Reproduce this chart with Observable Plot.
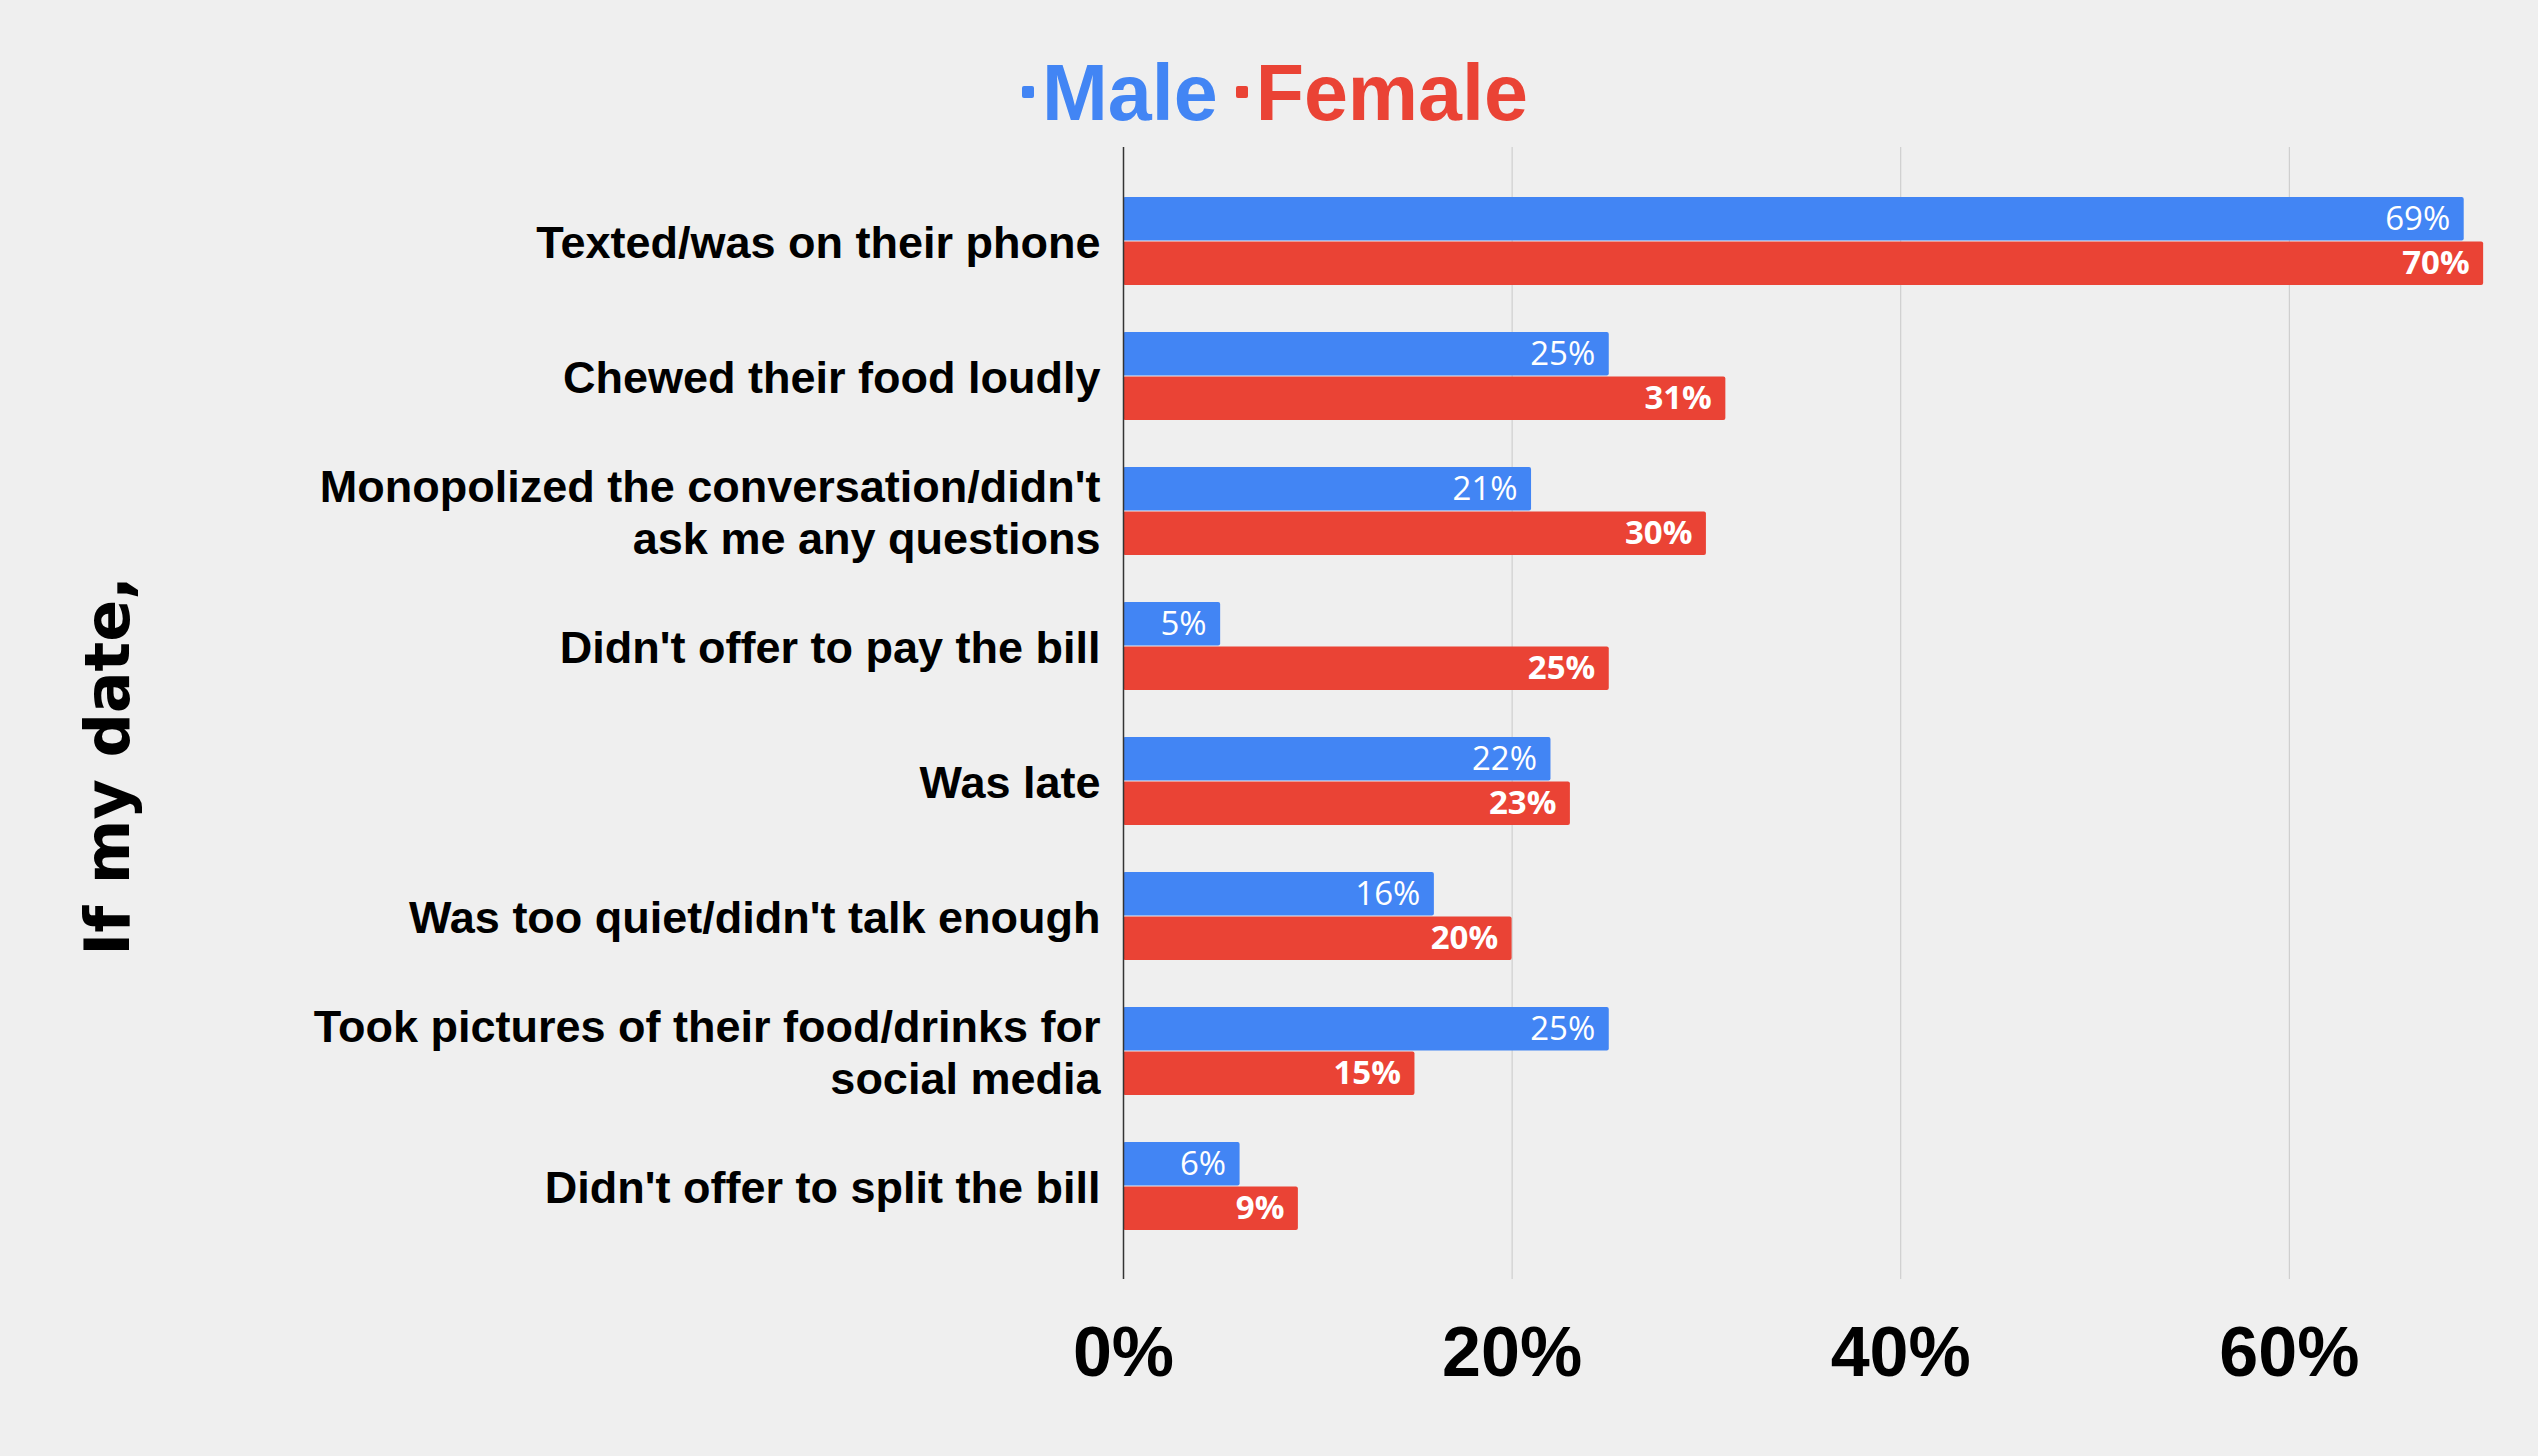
<!DOCTYPE html>
<html>
<head>
<meta charset="utf-8">
<script src="https://cdn.jsdelivr.net/npm/d3@7"></script>
<script src="https://cdn.jsdelivr.net/npm/@observablehq/plot@0.6"></script>
<style>
  html, body { margin: 0; padding: 0; background: #efefef; overflow: hidden; }
  #wrap { position: relative; width: 2538px; height: 1456px; }
  #legend {
    height: 67px; padding-top: 53px; padding-left: 1022px; line-height: 1;
    display: flex; justify-content: flex-start; align-items: flex-start;
    font-family: "Liberation Sans", Arial, sans-serif; font-weight: bold; font-size: 79px;
  }
  #legend span.item { display: inline-flex; align-items: baseline; }
  #legend span.item + span.item { margin-left: 18px; }
  #legend span.sw {
    display: inline-block; width: 12px; height: 12px; border-radius: 2px;
    margin-right: 8px; position: relative; top: -22px;
  }
  #ytitle {
    position: absolute; left: 108px; top: 766px;
    transform: translate(-50%, -50%) rotate(-90deg);
    font-family: "DejaVu Sans", sans-serif; font-weight: bold; font-size: 62px;
    line-height: 1; white-space: nowrap; color: #000;
  }
  svg { display: block; }
</style>
</head>
<body>
<div id="wrap">
  <div id="legend"></div>
  <div id="chart"></div>
  <div id="ytitle">If my date,</div>
</div>
<script>
const categories = [
  "Texted/was on their phone",
  "Chewed their food loudly",
  "Monopolized the conversation/didn't\nask me any questions",
  "Didn't offer to pay the bill",
  "Was late",
  "Was too quiet/didn't talk enough",
  "Took pictures of their food/drinks for\nsocial media",
  "Didn't offer to split the bill"
];
const male = [69, 25, 21, 5, 22, 16, 25, 6];
const female = [70, 31, 30, 25, 23, 20, 15, 9];
const sexes = ["Male", "Female"];
const colors = ["#4285f4", "#ea4335"];
const xTicks = [0, 20, 40, 60];

const data = categories.flatMap((c, i) => [
  {cat: c, sex: "Male", value: male[i]},
  {cat: c, sex: "Female", value: female[i]}
]);

// legend
const legend = document.getElementById("legend");
sexes.forEach((s, i) => {
  const item = document.createElement("span");
  item.className = "item";
  item.style.color = colors[i];
  const sw = document.createElement("span");
  sw.className = "sw";
  sw.style.background = colors[i];
  item.appendChild(sw);
  item.appendChild(document.createTextNode(s));
  legend.appendChild(item);
});

const W = 2538, H = 1336, mt = 27, mb = 177, ml = 1123, mr = 16;
const pad = 0.35;
// band width of the category scale, used to split each band into two bars
const yScale = d3.scaleBand(categories, [mt, H - mb]).padding(pad);
const bw = yScale.bandwidth();
const half = bw / 2;

const chart = Plot.plot({
  width: W,
  height: H,
  marginTop: mt,
  marginBottom: mb,
  marginLeft: ml,
  marginRight: mr,
  style: {background: "#efefef", fontFamily: "Liberation Sans, Arial, sans-serif", color: "#000"},
  x: {domain: [0, 72], axis: null},
  y: {domain: categories, padding: pad, axis: null},
  color: {domain: sexes, range: colors},
  marks: [
    Plot.ruleX(xTicks.filter(d => d > 0), {stroke: "#c8c8c8", strokeWidth: 1}),
    Plot.barX(data.filter(d => d.sex === "Male"), {
      y: "cat", x: "value", fill: "sex", rx: 2, insetBottom: half + 0.5
    }),
    Plot.barX(data.filter(d => d.sex === "Female"), {
      y: "cat", x: "value", fill: "sex", rx: 2, insetTop: half + 0.5
    }),
    Plot.text(data.filter(d => d.sex === "Male"), {
      y: "cat", x: "value", text: d => d.value + "%", dy: -half / 2,
      textAnchor: "end", dx: -14, fill: "white", fontSize: 33,
      fontFamily: "Open Sans, sans-serif", fontWeight: "normal"
    }),
    Plot.text(data.filter(d => d.sex === "Female"), {
      y: "cat", x: "value", text: d => d.value + "%", dy: half / 2,
      textAnchor: "end", dx: -14, fill: "white", fontSize: 33,
      fontFamily: "Open Sans, sans-serif", fontWeight: "bold"
    }),
    Plot.ruleX([0], {stroke: "#333", strokeWidth: 1.5}),
    Plot.axisY({
      tickSize: 0, tickPadding: 23, fontSize: 45, fontWeight: "bold",
      lineHeight: 1.15, label: null, fill: "#000"
    }),
    Plot.axisX(xTicks, {
      tickSize: 0, tickPadding: 47, fontSize: 70, fontWeight: "bold",
      tickFormat: d => d + "%", label: null, fill: "#000"
    })
  ]
});
document.getElementById("chart").appendChild(chart);
</script>
</body>
</html>
